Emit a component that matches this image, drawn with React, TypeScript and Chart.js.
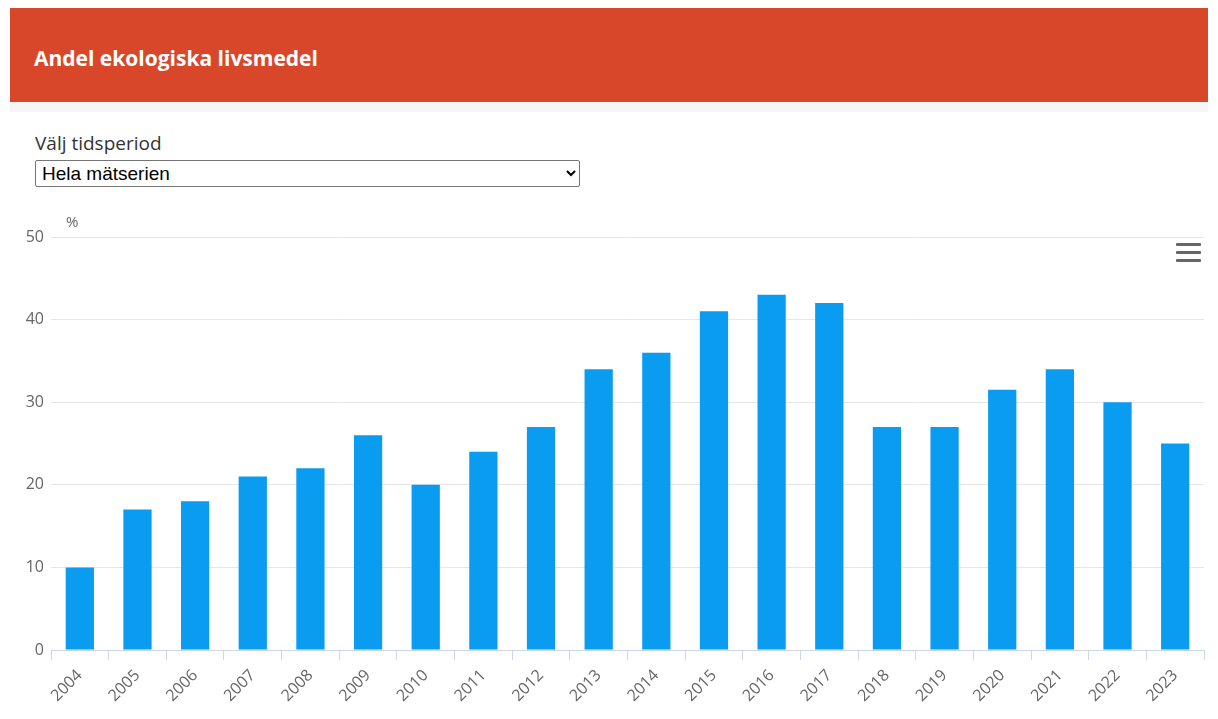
import React, { useEffect, useRef } from "react";
import { Chart, registerables } from "chart.js";

Chart.register(...registerables);

const years: string[] = ["2004","2005","2006","2007","2008","2009","2010","2011","2012","2013","2014","2015","2016","2017","2018","2019","2020","2021","2022","2023"];
const shares: number[] = [10, 17, 18, 21, 22, 26, 20, 24, 27, 34, 36, 41, 43, 42, 27, 27, 31.5, 34, 30, 25];
const yTicks: number[] = [0, 10, 20, 30, 40, 50];
const titleText = "Andel ekologiska livsmedel";
const periodLabel = "Välj tidsperiod";
const periodOptions: string[] = ["Hela mätserien"];
const unitLabel = "%";

const FONT = "'Open Sans', 'DejaVu Sans', sans-serif";

const unitPlugin = {
  id: "unitLabel",
  afterDraw(chart: any) {
    const { ctx, chartArea } = chart;
    ctx.save();
    ctx.font = `15px ${FONT}`;
    ctx.fillStyle = "#666666";
    ctx.textAlign = "left";
    ctx.textBaseline = "middle";
    ctx.fillText(unitLabel, chartArea.left + 15, chartArea.top - 14);
    ctx.restore();
  },
};

function BarChart() {
  const ref = useRef<HTMLCanvasElement | null>(null);
  useEffect(() => {
    if (!ref.current) return;
    const chart = new Chart(ref.current, {
      type: "bar",
      data: {
        labels: years,
        datasets: [
          {
            data: shares,
            backgroundColor: "#0a9cf0",
            borderWidth: 0,
            categoryPercentage: 1,
            barPercentage: 0.49,
          },
        ],
      },
      options: {
        animation: false,
        responsive: false,
        maintainAspectRatio: false,
        layout: { padding: { top: 32, right: 4, left: 0, bottom: 0 } },
        plugins: { legend: { display: false }, tooltip: { enabled: false } },
        scales: {
          x: {
            offset: true,
            grid: {
              display: true,
              drawOnChartArea: false,
              drawTicks: true,
              tickLength: 10,
              color: "#ccd6eb",
              offset: true,
            },
            border: { display: true, color: "#ccd6eb" },
            ticks: {
              minRotation: 45,
              maxRotation: 45,
              autoSkip: false,
              color: "#666666",
              font: { family: FONT, size: 16 },
              padding: 6,
            },
            afterFit(scale: any) {
              scale.height = 74;
            },
          },
          y: {
            min: 0,
            max: 50,
            afterBuildTicks(scale: any) {
              scale.ticks = yTicks.map((v) => ({ value: v }));
            },
            grid: { color: "#e6e6e6", drawTicks: false },
            border: { display: false },
            ticks: {
              color: "#666666",
              font: { family: FONT, size: 16 },
              padding: 7,
            },
            afterFit(scale: any) {
              scale.width = 41;
            },
          },
        },
      },
      plugins: [unitPlugin],
    });
    return () => chart.destroy();
  }, []);
  return <canvas ref={ref} width={1198} height={519} style={{ display: "block" }} />;
}

export default function App() {
  return (
    <div style={{ position: "relative", width: 1198, marginLeft: 2, marginTop: -1, background: "#fff" }}>
      <div
        style={{
          height: 95,
          background: "#d9472b",
          color: "#fff",
          fontFamily: FONT,
          fontWeight: 700,
          fontSize: 21,
          display: "flex",
          alignItems: "center",
          paddingLeft: 24,
          paddingTop: 6,
          boxSizing: "border-box",
        }}
      >
        {titleText}
      </div>
      <div style={{ height: 10, background: "#f6f6f6" }} />
      <div style={{ height: 93, position: "relative" }}>
        <div
          style={{
            position: "absolute",
            left: 25,
            top: 18,
            fontFamily: FONT,
            fontSize: 19,
            lineHeight: "26px",
            color: "#333",
          }}
        >
          {periodLabel}
        </div>
        <select
          style={{
            position: "absolute",
            left: 25,
            top: 48,
            width: 545,
            height: 27,
            fontFamily: "Arial, 'Liberation Sans', sans-serif",
            fontSize: 19,
            color: "#000",
            background: "#fff",
            border: "1px solid #767676",
            borderRadius: 2,
            padding: "0 2px",
          }}
          defaultValue={periodOptions[0]}
        >
          {periodOptions.map((o) => (
            <option key={o} value={o}>
              {o}
            </option>
          ))}
        </select>
      </div>
      <div style={{ position: "relative" }}>
        <BarChart />
        <div style={{ position: "absolute", left: 1166, top: 38, width: 25 }}>
          {[0, 1, 2].map((i) => (
            <div key={i} style={{ height: 3, background: "#666", borderRadius: 1, marginBottom: 5 }} />
          ))}
        </div>
      </div>
    </div>
  );
}
